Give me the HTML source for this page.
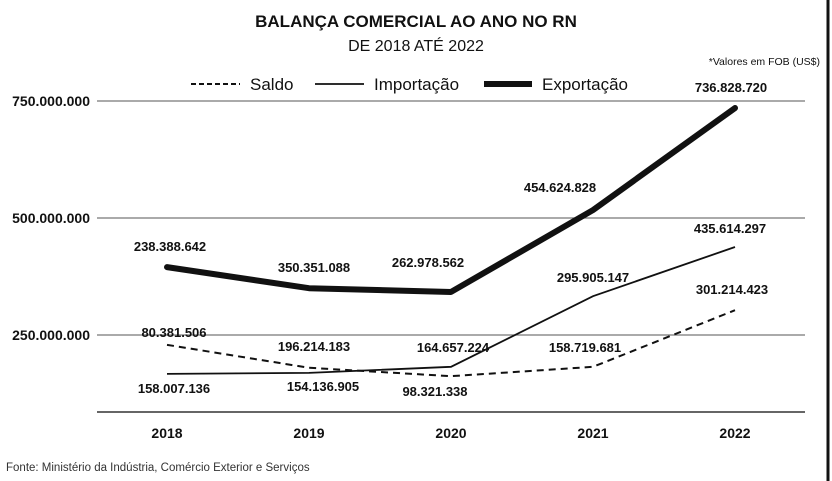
<!DOCTYPE html>
<html><head><meta charset="utf-8"><style>
body{margin:0;background:#fff;}
svg{display:block;font-family:"Liberation Sans",sans-serif;}
</style></head><body>
<svg id="chart" width="832" height="481" viewBox="0 0 832 481">
<rect width="832" height="481" fill="#fff"/>
<line x1="828" y1="0" x2="828" y2="481" stroke="#111" stroke-width="3"/>
<text x="416" y="27" text-anchor="middle" font-size="17" font-weight="bold" fill="#111">BALANÇA COMERCIAL AO ANO NO RN</text>
<text x="416" y="51" text-anchor="middle" font-size="16" fill="#111">DE  2018 ATÉ 2022</text>
<text x="820" y="65" text-anchor="end" font-size="10.5" fill="#111">*Valores em FOB (US$)</text>
<g>
<line x1="191" y1="84" x2="240" y2="84" stroke="#111" stroke-width="2" stroke-dasharray="5,3"/>
<text x="250" y="90" font-size="17" fill="#111">Saldo</text>
<line x1="315" y1="84" x2="364" y2="84" stroke="#111" stroke-width="1.8"/>
<text x="374" y="90" font-size="17" fill="#111">Importação</text>
<line x1="484" y1="84" x2="532" y2="84" stroke="#111" stroke-width="6"/>
<text x="542" y="90" font-size="17" fill="#111">Exportação</text>
</g>
<g id="grid"></g>
<g id="series"></g>
<g id="labels"></g>
<text x="6" y="471" font-size="11.5" fill="#333">Fonte: Ministério da Indústria, Comércio Exterior e Serviços</text>
</svg>
<script>
const years = ["2018","2019","2020","2021","2022"];
const exportacao = [395, 350, 342, 517, 735];
const importacao = [167, 169, 182, 333, 438];
const saldo = [229, 180, 162, 182, 303];
const exportLabels = ["238.388.642","350.351.088","262.978.562","454.624.828","736.828.720"];
const importLabels = ["158.007.136","154.136.905","164.657.224","295.905.147","435.614.297"];
const saldoLabels = ["80.381.506","196.214.183","98.321.338","158.719.681","301.214.423"];
const yTicks = [250, 500, 750];
const yTickLabels = ["250.000.000","500.000.000","750.000.000"];

const NS = "http://www.w3.org/2000/svg";
function xs(i){ return 167 + i * 142; }
function ys(v){ return 101 + (750 - v) * 117 / 250; }
function mk(tag, attrs, parent){ const e=document.createElementNS(NS,tag); for(const k in attrs) e.setAttribute(k,attrs[k]); parent.appendChild(e); return e; }

const grid = document.getElementById('grid');
yTicks.forEach((t,i)=>{
  const l = mk('line',{x1:97,x2:805,y1:ys(t),y2:ys(t),stroke:'#777','stroke-width':1.3},grid);
  
  
  const tx = mk('text',{x:90,y:ys(t)+5,'text-anchor':'end','font-size':14,'font-weight':'bold',fill:'#111'},grid);
  tx.textContent = yTickLabels[i];
  
  
});
const base = mk('line',{x1:97,x2:805,y1:412,y2:412,stroke:'#333','stroke-width':1.5},grid);


years.forEach((y,i)=>{
  const tx = mk('text',{x:xs(i),y:438,'text-anchor':'middle','font-size':14,'font-weight':'bold',fill:'#111'},grid);
  tx.textContent = y;
  
  
});

const series = document.getElementById('series');
function pts(arr){ return arr.map((v,i)=>xs(i)+','+ys(v)).join(' '); }
const ls = mk('polyline',{points:pts(saldo),fill:'none',stroke:'#111','stroke-width':2,'stroke-dasharray':'7,5'},series);


const li = mk('polyline',{points:pts(importacao),fill:'none',stroke:'#111','stroke-width':1.8},series);


const le = mk('polyline',{points:pts(exportacao),fill:'none',stroke:'#111','stroke-width':6,'stroke-linecap':'round','stroke-linejoin':'round'},series);



const labels = document.getElementById('labels');
function lab(arr, vals, dy, dx, name){
  arr.forEach((s,i)=>{
    const tx = mk('text',{x:xs(i)+dx[i],y:ys(vals[i])+dy[i],'text-anchor':'middle','font-size':13,'font-weight':'bold',fill:'#111'},labels);
    tx.textContent = s;
    
    
  });
}
lab(exportLabels, exportacao, [-16,-16,-25,-18,-16], [3,5,-23,-33,-4], 'export-value-label');
lab(importLabels, importacao, [19,18,-15,-14,-14], [7,14,2,0,-5], 'import-value-label');
lab(saldoLabels, saldo, [-8,-17,20,-15,-16], [7,5,-16,-8,-3], 'saldo-value-label');
</script>
</body></html>
